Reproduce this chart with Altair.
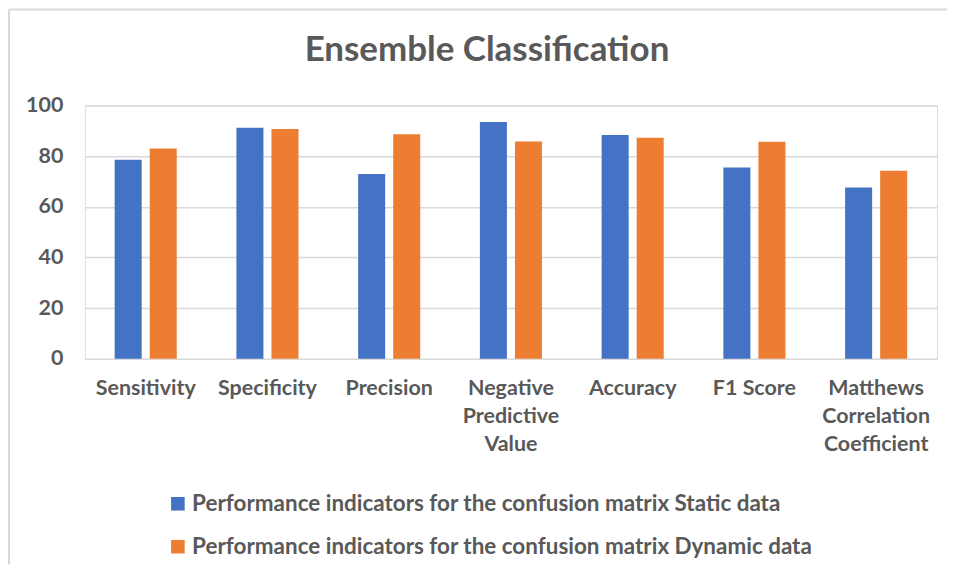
import altair as alt
import pandas as pd

categories = ["Sensitivity", "Specificity", "Precision", "Negative|Predictive|Value",
              "Accuracy", "F1 Score", "Matthews|Correlation|Coefficient"]
static_vals = [78.6, 91.2, 72.9, 93.4, 88.3, 75.5, 67.6]
dynamic_vals = [83.0, 90.7, 88.6, 85.8, 87.2, 85.7, 74.2]
series = ["Performance indicators for the confusion matrix Static data",
          "Performance indicators for the confusion matrix Dynamic data"]
colors = ["#4472C4", "#ED7D31"]

rows = []
for c, s, d in zip(categories, static_vals, dynamic_vals):
    rows.append({"cat": c, "series": series[0], "value": s})
    rows.append({"cat": c, "series": series[1], "value": d})
df = pd.DataFrame(rows)

FONT = "Lato"
TXT = "#595959"

bars = alt.Chart(df).mark_bar().encode(
    x=alt.X("cat:N", sort=categories, title=None,
            scale=alt.Scale(paddingInner=0.49, paddingOuter=0.245),
            axis=alt.Axis(labelExpr="split(datum.label, '|')", labelAngle=0,
                          labelFontSize=21.5, labelFontWeight="bold", labelColor=TXT,
                          labelFont=FONT, labelLineHeight=28, labelPadding=19,
                          ticks=False, domain=False, grid=False, labelLimit=0)),
    xOffset=alt.XOffset("series:N", sort=series, scale=alt.Scale(paddingInner=0.229)),
    y=alt.Y("value:Q", title=None,
            scale=alt.Scale(domain=[0, 100]),
            axis=alt.Axis(values=[0, 20, 40, 60, 80, 100], labelFontSize=21.5,
                          labelFontWeight="bold", labelColor=TXT, labelFont=FONT,
                          labelPadding=22, ticks=False, domain=False,
                          gridColor="#d9d9d9", gridWidth=1.5)),
    color=alt.Color("series:N", sort=series,
                    scale=alt.Scale(domain=series, range=colors),
                    legend=alt.Legend(title=None, orient="none", legendX=82, legendY=388,
                                      direction="vertical", symbolType="square",
                                      symbolSize=185, symbolStrokeWidth=0,
                                      labelFontSize=22.5, labelFontWeight="bold",
                                      labelColor=TXT, labelFont=FONT, labelLimit=0,
                                      rowPadding=20, labelOffset=3)),
)

border_top = alt.Chart(pd.DataFrame({"a": [0]})).mark_rule(color="#d9d9d9", strokeWidth=2).encode(
    x=alt.value(-76), x2=alt.value(864), y=alt.value(-96))
border_left = alt.Chart(pd.DataFrame({"a": [0]})).mark_rule(color="#d9d9d9", strokeWidth=2).encode(
    x=alt.value(-76), y=alt.value(-96), y2=alt.value(460))

chart = alt.layer(border_top, border_left, bars).properties(
    width=854, height=254, padding=0,
    title=alt.TitleParams("Ensemble Classification", fontSize=35, fontWeight="bold",
                          color=TXT, font=FONT, anchor="middle", frame="group",
                          offset=-60, dx=-24),
).configure_view(stroke=None).configure(background="white")

chart.save("out.html", embed_options={"renderer": "svg", "actions": False})
